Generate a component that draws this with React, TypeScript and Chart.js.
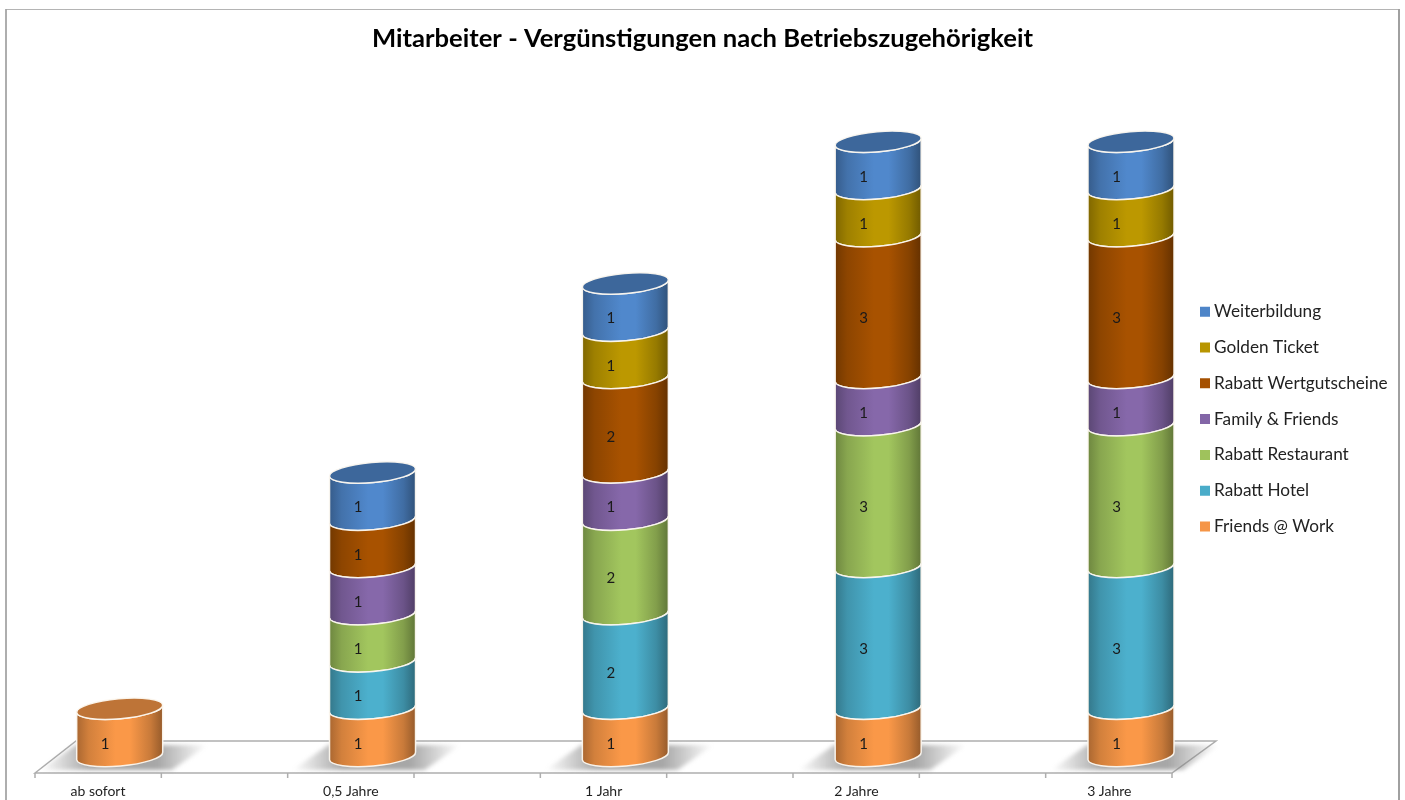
import React, { useEffect, useRef } from "react";
import { Chart, registerables } from "chart.js";

Chart.register(...registerables);

const titleText = "Mitarbeiter - Vergünstigungen nach Betriebszugehörigkeit";
const categories = ["ab sofort", "0,5 Jahre", "1 Jahr", "2 Jahre", "3 Jahre"];

const friendsAtWork = [1, 1, 1, 1, 1];
const rabattHotel = [0, 1, 2, 3, 3];
const rabattRestaurant = [0, 1, 2, 3, 3];
const familyFriends = [0, 1, 1, 1, 1];
const rabattWertgutscheine = [0, 1, 2, 3, 3];
const goldenTicket = [0, 0, 1, 1, 1];
const weiterbildung = [0, 1, 1, 1, 1];

const seriesNames = ["Friends @ Work", "Rabatt Hotel", "Rabatt Restaurant", "Family & Friends", "Rabatt Wertgutscheine", "Golden Ticket", "Weiterbildung"];
const seriesValues = [friendsAtWork, rabattHotel, rabattRestaurant, familyFriends, rabattWertgutscheine, goldenTicket, weiterbildung];
const seriesColors: [number, number, number][] = [
  [250, 152, 72],
  [76, 176, 205],
  [162, 198, 94],
  [134, 104, 170],
  [168, 82, 0],
  [188, 152, 0],
  [80, 136, 204],
];

const FONT = "Lato, Carlito, 'Noto Sans', sans-serif";
const TILT = (-5 * Math.PI) / 180;
const MINOR = 10;

const rgb = (c: number[], k = 1) => `rgb(${c.map((v) => Math.round(v * k)).join(",")})`;

function drawSegment(this: any, ctx: CanvasRenderingContext2D) {
  const el = this;
  const color = el.$color as number[];
  if (!el.$value) return;
  const half = el.width / 2;
  const a = half / Math.cos(TILT);
  const grad = ctx.createLinearGradient(el.x - half, 0, el.x + half, 0);
  grad.addColorStop(0, rgb(color, 0.68));
  grad.addColorStop(0.14, rgb(color, 0.84));
  grad.addColorStop(0.45, rgb(color, 1));
  grad.addColorStop(0.62, rgb(color, 1));
  grad.addColorStop(0.86, rgb(color, 0.8));
  grad.addColorStop(1, rgb(color, 0.6));
  ctx.save();
  ctx.beginPath();
  ctx.ellipse(el.x, el.base, a, MINOR, TILT, Math.PI, 0, true);
  ctx.ellipse(el.x, el.y, a, MINOR, TILT, 0, Math.PI, false);
  ctx.closePath();
  ctx.fillStyle = grad;
  ctx.fill();
  ctx.strokeStyle = "rgba(252,248,240,0.95)";
  ctx.lineWidth = 1.5;
  ctx.stroke();
  ctx.restore();
}

const cylinderPlugin = {
  id: "cylinder",
  beforeDraw(chart: any) {
    const { ctx, width, height } = chart;
    ctx.save();
    ctx.fillStyle = "#ffffff";
    ctx.fillRect(0, 0, width, height);
    ctx.strokeStyle = "#b4b4b4";
    ctx.lineWidth = 1.2;
    ctx.beginPath();
    ctx.moveTo(6, height + 2);
    ctx.lineTo(6, 9.5);
    ctx.lineTo(1399, 9.5);
    ctx.stroke();
    ctx.strokeStyle = "#a0a0a0";
    ctx.lineWidth = 2;
    ctx.beginPath();
    ctx.moveTo(1399, 9);
    ctx.lineTo(1399, height + 2);
    ctx.stroke();
    ctx.strokeStyle = "#a0a0a0";
    ctx.lineWidth = 1.4;
    ctx.beginPath();
    ctx.moveTo(6, 9);
    ctx.lineTo(6, height + 2);
    ctx.stroke();
    ctx.restore();
  },
  beforeDatasetsDraw(chart: any) {
    const { ctx } = chart;
    const x = chart.scales.x;
    const y = chart.scales.y;
    const zero = y.getPixelForValue(0);
    const x0 = x.getPixelForTick(0);
    const xN = x.getPixelForTick(categories.length - 1);
    const frontY = zero + 17;
    const backY = zero - 15;
    const fl = x0 - 84.7;
    const fr = xN + 41;

    ctx.save();
    ctx.strokeStyle = "#aeaeae";
    ctx.lineWidth = 1.5;
    ctx.beginPath();
    ctx.moveTo(fl, frontY);
    ctx.lineTo(fl + 41, backY);
    ctx.lineTo(fr + 44, backY);
    ctx.lineTo(fr, frontY);
    ctx.closePath();
    ctx.stroke();
    for (let k = 0; k < categories.length * 2; k++) {
      const tx = fl + (k * (fr - fl)) / (categories.length * 2 - 1);
      ctx.beginPath();
      ctx.moveTo(tx, frontY);
      ctx.lineTo(tx, frontY + 5);
      ctx.stroke();
    }

    categories.forEach((_, i) => {
      const cx = x.getPixelForTick(i);
      const g = ctx.createLinearGradient(cx - 80, 0, cx + 88, 0);
      g.addColorStop(0, "rgba(130,130,130,0)");
      g.addColorStop(0.3, "rgba(130,130,130,0.7)");
      g.addColorStop(0.7, "rgba(130,130,130,0.7)");
      g.addColorStop(1, "rgba(130,130,130,0)");
      ctx.save();
      ctx.filter = "blur(2px)";
      ctx.fillStyle = g;
      ctx.beginPath();
      ctx.moveTo(cx - 80, frontY - 3);
      ctx.lineTo(cx - 44, backY + 4);
      ctx.lineTo(cx + 88, backY + 4);
      ctx.lineTo(cx + 52, frontY - 3);
      ctx.closePath();
      ctx.fill();
      ctx.restore();
    });
    ctx.restore();

    chart.data.datasets.forEach((ds: any, d: number) => {
      chart.getDatasetMeta(d).data.forEach((el: any, i: number) => {
        el.$color = seriesColors[d];
        el.$value = ds.data[i];
        el.draw = drawSegment;
      });
    });
  },
  afterDatasetsDraw(chart: any) {
    const { ctx } = chart;
    ctx.save();
    categories.forEach((_, i) => {
      let top = -1;
      chart.data.datasets.forEach((ds: any, d: number) => {
        if (ds.data[i] > 0) top = d;
      });
      if (top < 0) return;
      const el = chart.getDatasetMeta(top).data[i];
      const a = el.width / 2 / Math.cos(TILT);
      ctx.beginPath();
      ctx.ellipse(el.x, el.y, a, MINOR, TILT, 0, Math.PI * 2);
      ctx.fillStyle = rgb(seriesColors[top], 0.76);
      ctx.fill();
      ctx.strokeStyle = "rgba(252,248,240,0.95)";
      ctx.lineWidth = 1.5;
      ctx.stroke();
    });
    ctx.font = `15px ${FONT}`;
    ctx.fillStyle = "#1a1a1a";
    ctx.textAlign = "center";
    ctx.textBaseline = "middle";
    chart.data.datasets.forEach((ds: any, d: number) => {
      chart.getDatasetMeta(d).data.forEach((el: any, i: number) => {
        if (!ds.data[i]) return;
        ctx.fillText(String(ds.data[i]), el.x - 14.5, (el.y + el.base) / 2 + 11.5);
      });
    });
    ctx.restore();
  },
  afterLayout(chart: any) {
    const lg = chart.legend;
    if (lg) {
      lg.left = 1185.9;
      lg.right = 1400;
      lg.top = 284.5;
      lg.bottom = 800;
    }
    const tb = chart.titleBlock;
    if (tb) {
      tb.left = 0;
      tb.right = chart.width;
      tb.width = chart.width;
    }
  },
};

export default function App() {
  const ref = useRef<HTMLCanvasElement | null>(null);
  useEffect(() => {
    document.body.style.margin = "0";
    const chart = new Chart(ref.current as HTMLCanvasElement, {
      type: "bar",
      data: {
        labels: categories,
        datasets: seriesNames.map((name, i) => ({
          label: name,
          data: seriesValues[i],
          backgroundColor: rgb(seriesColors[i], 0.98),
          barThickness: 86,
          clip: false as any,
        })),
      },
      options: {
        responsive: false,
        animation: false,
        events: [],
        layout: { padding: { left: 119.7, right: 274, top: 0, bottom: 0 } },
        scales: {
          x: {
            stacked: true,
            offset: false,
            border: { display: false },
            grid: { display: false, drawTicks: false },
            afterFit: (s: any) => {
              s.paddingLeft = 0;
              s.paddingRight = 0;
              s.height = 44;
            },
            ticks: {
              autoSkip: false,
              maxRotation: 0,
              padding: 27.5,
              labelOffset: -21.7,
              color: "#1f1f1f",
              font: { family: FONT, size: 14 },
            },
          },
          y: { stacked: true, display: false, min: 0, max: 14 },
        },
        plugins: {
          tooltip: { enabled: false },
          title: {
            display: true,
            text: titleText,
            color: "#000000",
            font: { family: FONT, size: 25.6, weight: "bold" },
            padding: { top: 23.6, bottom: 40.2 },
          },
          legend: {
            display: true,
            position: "chartArea",
            align: "start",
            reverse: true,
            labels: {
              usePointStyle: true,
              pointStyle: "rect",
              boxWidth: 1,
              boxHeight: 10,
              padding: 18.6,
              color: "#222222",
              font: { family: FONT, size: 17.2 },
            },
          },
        },
      } as any,
      plugins: [cylinderPlugin as any],
    });
    return () => chart.destroy();
  }, []);
  return <canvas ref={ref} width={1405} height={800} style={{ display: "block", position: "absolute", left: 0, top: 0 }} />;
}
